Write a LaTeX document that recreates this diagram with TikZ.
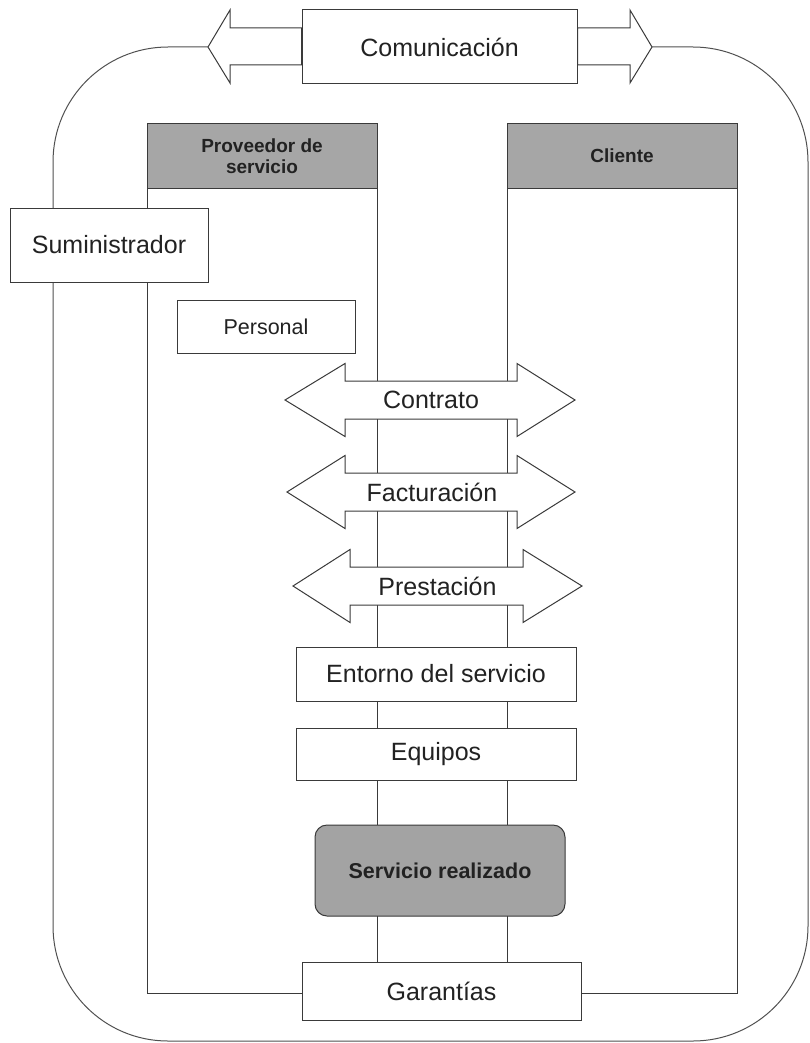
\documentclass[tikz,border=0pt]{standalone}
\usepackage{fontspec}
\setmainfont{Liberation Sans}
\definecolor{linec}{HTML}{3A3A3A}
\definecolor{loopc}{HTML}{505050}
\definecolor{hdrgray}{HTML}{A6A6A6}
\definecolor{srvgray}{HTML}{A3A3A3}
\definecolor{txt}{HTML}{222222}
\newcommand{\myDArrow}[6]{% name, left tip, left base, right base, right tip, center y
  \draw[arrowshape] (#2,#6) -- (#3,#6-36.5) -- (#3,#6-19) -- (#4,#6-19) -- (#4,#6-36.5)
    -- (#5,#6) -- (#4,#6+36.5) -- (#4,#6+19) -- (#3,#6+19) -- (#3,#6+36.5) -- cycle;
}
\begin{document}
\begin{tikzpicture}[x=1pt,y=-1pt,
  box/.style={draw=linec, fill=white, line width=1pt, inner sep=0pt, text=txt,
    font=\fontsize{25}{29}\selectfont},
  hdr/.style={draw=linec, fill=hdrgray, line width=1pt, inner sep=0pt, text=txt,
    align=center, font=\bfseries\fontsize{19}{21}\selectfont},
  colline/.style={draw=linec, line width=1pt},
  arrowshape/.style={draw=linec, fill=white, line width=1pt, line join=miter},
  looppath/.style={draw=loopc, line width=1pt, rounded corners=115pt},
  lbl/.style={inner sep=0pt, text=txt, font=\fontsize{25}{29}\selectfont}]
\useasboundingbox (0,0) rectangle (810,1043);

% Communication box and its arrows
\node[box, minimum width=275pt, minimum height=74pt] (com) at (439.5,47) {Comunicación};
\coordinate (ltip) at (208,47);
\coordinate (rtip) at (652,47);
\draw[arrowshape] (ltip) -- (230,10) -- (230,28) -- (com.west |- 0,28) -- (com.west |- 0,65)
  -- (230,65) -- (230,83) -- cycle;
\draw[arrowshape] (rtip) -- (630,10) -- (630,28) -- (com.east |- 0,28) -- (com.east |- 0,65)
  -- (630,65) -- (630,83) -- cycle;

% outer loop
\draw[looppath] (ltip) -- (53,47) -- (53,1041) -- (808,1041) -- (808,47) -- (rtip);

% columns
\coordinate (pTL) at (147,124);
\coordinate (pBR) at (377,993);
\coordinate (cTL) at (507,124);
\coordinate (cBR) at (737,993);
\draw[colline] (pTL) rectangle (pBR);
\draw[colline] (cTL) rectangle (cBR);

% headers
\node[hdr, minimum width=230pt, minimum height=64pt] (prov) at (262,156) {Proveedor de\\servicio};
\node[hdr, minimum width=230pt, minimum height=64pt] (cli) at (622,156) {Cliente};

% side boxes
\node[box, minimum width=198pt, minimum height=74pt] (sum) at (109,245) {Suministrador};
\node[box, minimum width=178pt, minimum height=53pt, font=\fontsize{21.5}{24}\selectfont] (per) at (266,326.5) {Personal};

% double arrows
\myDArrow{contr}{285}{345}{517}{575}{400}
\node[lbl] (contrato) at (431,400) {Contrato};
\myDArrow{fact}{287}{345}{517}{575}{492}
\node[lbl] (factur) at (432,492) {Facturación};
\myDArrow{prest}{293}{350}{523}{582}{586}
\node[lbl] (prestac) at (437.5,586) {Prestación};

% central boxes
\node[box, minimum width=280pt, minimum height=54pt] (ent) at (436,674) {Entorno del servicio};
\node[box, minimum width=280pt, minimum height=52pt] (equ) at (436,754) {Equipos};
\node[box, fill=srvgray, rounded corners=12pt, minimum width=250pt, minimum height=91pt,
  font=\bfseries\fontsize{21.5}{24}\selectfont] (srv) at (440,870.5) {Servicio realizado};
\node[box, minimum width=279pt, minimum height=58pt] (gar) at (441.5,991) {Garantías};
\end{tikzpicture}
\end{document}
